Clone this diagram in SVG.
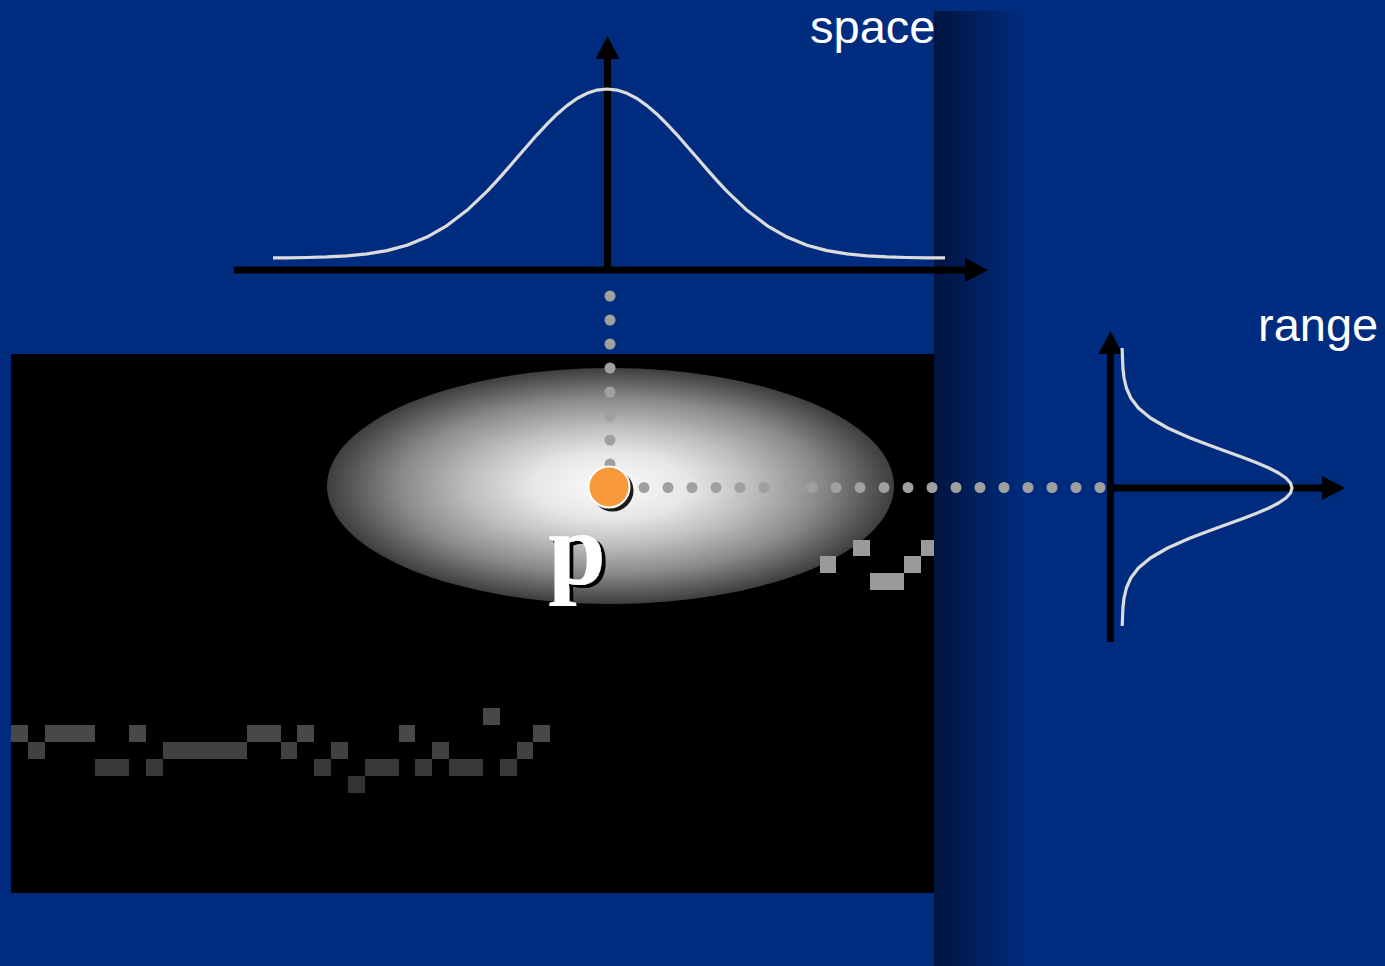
<svg xmlns="http://www.w3.org/2000/svg" width="1385" height="966" viewBox="0 0 1385 966">
<defs>
<style>
.axis{stroke:#000;stroke-width:7;fill:none;marker-end:url(#arrow)}
.curve{stroke:#dcdcdc;stroke-width:3.2;fill:none;stroke-linejoin:round}
.dots{stroke:#a0a0a0;stroke-width:11;stroke-linecap:round;stroke-dasharray:0 24;fill:none}
.label{font-family:"Liberation Sans",Arial,sans-serif;fill:#fff}
.r1{fill:#484848}.r2{fill:#414141}.r3{fill:#383838}.r4{fill:#333}
.lt{fill:#9a9a9a}
</style>
<marker id="arrow" viewBox="0 0 23 24" refX="1" refY="12" markerWidth="23" markerHeight="24" markerUnits="userSpaceOnUse" orient="auto">
<path d="M0,0 L23,12 L0,24 Z" fill="#000"/>
</marker>
<filter id="shadow" x="-20%" y="-20%" width="150%" height="150%">
<feOffset in="SourceAlpha" dx="4" dy="3" result="off"/>
<feFlood flood-color="#000"/>
<feComposite in2="off" operator="in" result="sh"/>
<feMerge><feMergeNode in="sh"/><feMergeNode in="SourceGraphic"/></feMerge>
</filter>
<linearGradient id="shade" x1="934" y1="0" x2="1025" y2="0" gradientUnits="userSpaceOnUse">
<stop offset="0" stop-color="#001440"/>
<stop offset="1" stop-color="#002C7F"/>
</linearGradient>
<radialGradient id="glow" cx="0.5" cy="0.5" r="0.5">
<stop offset="0" stop-color="#fcfcfc"/>
<stop offset="0.28" stop-color="#e6e6e6"/>
<stop offset="0.49" stop-color="#c0c0c0"/>
<stop offset="0.74" stop-color="#8a8a8a"/>
<stop offset="1" stop-color="#3e3e3e"/>
</radialGradient>
</defs>

<rect id="background" x="0" y="0" width="1385" height="966" fill="#002C7F"/>
<rect id="image-panel" x="11" y="354" width="923" height="539" fill="#000"/>
<rect id="panel-shadow" x="934" y="11" width="451" height="955" fill="url(#shade)"/>

<g id="kernel">
<ellipse cx="610.5" cy="486" rx="283.5" ry="118" fill="url(#glow)"/>
</g>

<g id="pixels-near">
<rect class="lt" x="853" y="540" width="17" height="16"/>
<rect class="lt" x="921" y="540" width="13" height="16"/>
<rect class="lt" x="820" y="556" width="16" height="17"/>
<rect class="lt" x="904" y="556" width="17" height="17"/>
<rect class="lt" x="870" y="573" width="34" height="17"/>
</g>

<g id="pixels-far">
<rect class="r1" x="483" y="708" width="17" height="17"/>
<rect class="r1" x="11" y="725" width="17" height="17"/>
<rect class="r1" x="45" y="725" width="50" height="17"/>
<rect class="r1" x="129" y="725" width="17" height="17"/>
<rect class="r1" x="247" y="725" width="34" height="17"/>
<rect class="r1" x="297" y="725" width="17" height="17"/>
<rect class="r1" x="399" y="725" width="16" height="17"/>
<rect class="r1" x="533" y="725" width="17" height="17"/>
<rect class="r2" x="28" y="742" width="17" height="17"/>
<rect class="r2" x="163" y="742" width="84" height="17"/>
<rect class="r2" x="281" y="742" width="16" height="17"/>
<rect class="r2" x="331" y="742" width="17" height="17"/>
<rect class="r2" x="432" y="742" width="17" height="17"/>
<rect class="r2" x="517" y="742" width="16" height="17"/>
<rect class="r3" x="95" y="759" width="34" height="17"/>
<rect class="r3" x="146" y="759" width="17" height="17"/>
<rect class="r3" x="314" y="759" width="17" height="17"/>
<rect class="r3" x="365" y="759" width="34" height="17"/>
<rect class="r3" x="415" y="759" width="17" height="17"/>
<rect class="r3" x="449" y="759" width="34" height="17"/>
<rect class="r3" x="500" y="759" width="17" height="17"/>
<rect class="r4" x="348" y="776" width="17" height="17"/>
</g>

<g id="space-kernel">
<line class="axis" x1="234" y1="270" x2="966" y2="270"/>
<line class="axis" x1="607.5" y1="270" x2="607.5" y2="58"/>
<polyline class="curve" points="273,257.9 287,257.8 307,257.5 327,256.9 347,255.85 367,253.9 387,250.6 407,245.2 427,237.1 447,225.6 467,210.3 487,191.3 497,180.6 507,169.4 517,157.8 527,146.2 537,134.8 547,124.1 557,114.2 567,105.6 577,98.5 587,93.3 597,90.1 607,89 617,90.1 627,93.3 637,98.5 647,105.6 657,114.2 667,124.1 677,134.8 687,146.2 697,157.8 707,169.4 717,180.6 727,191.3 747,210.3 767,225.6 787,237.1 807,245.2 827,250.6 847,253.9 867,255.85 887,256.9 907,257.5 927,257.8 945,257.9"/>
</g>

<g id="range-kernel">
<line class="axis" x1="1110.5" y1="642" x2="1110.5" y2="353"/>
<line class="axis" x1="1110" y1="488" x2="1323" y2="488"/>
<polyline class="curve" points="1122.1,348 1122.9,368 1124.05,378 1126.4,388 1130.8,398 1138.4,408 1150.4,418 1167.6,428 1190.2,438 1216.8,448 1230.7,453 1244.4,458 1257.3,463 1268.9,468 1278.6,473 1285.9,478 1290.5,483 1292,488 1290.5,493 1285.9,498 1278.6,503 1268.9,508 1257.3,513 1244.4,518 1230.7,523 1216.8,528 1190.2,538 1167.6,548 1150.4,558 1138.4,568 1130.8,578 1126.4,588 1124.05,598 1122.9,608 1122.2,626"/>
</g>

<g id="connectors">
<line class="dots" x1="610" y1="296" x2="610" y2="465"/>
<line class="dots" x1="644" y1="487.5" x2="1101" y2="487.5"/>
</g>

<g id="point-p">
<circle cx="612.5" cy="490.5" r="21" fill="#1a1a1a"/>
<circle cx="609" cy="487" r="20.5" fill="#F7983A" stroke="#fff" stroke-width="2"/>
<text x="548" y="584" font-family="'Liberation Serif','Times New Roman',serif" font-weight="bold" font-size="104" fill="#fff" filter="url(#shadow)">p</text>
</g>

<g id="labels">
<text class="label" x="810" y="43" font-size="47">space</text>
<text class="label" x="1258" y="341" font-size="47">range</text>
</g>
</svg>
